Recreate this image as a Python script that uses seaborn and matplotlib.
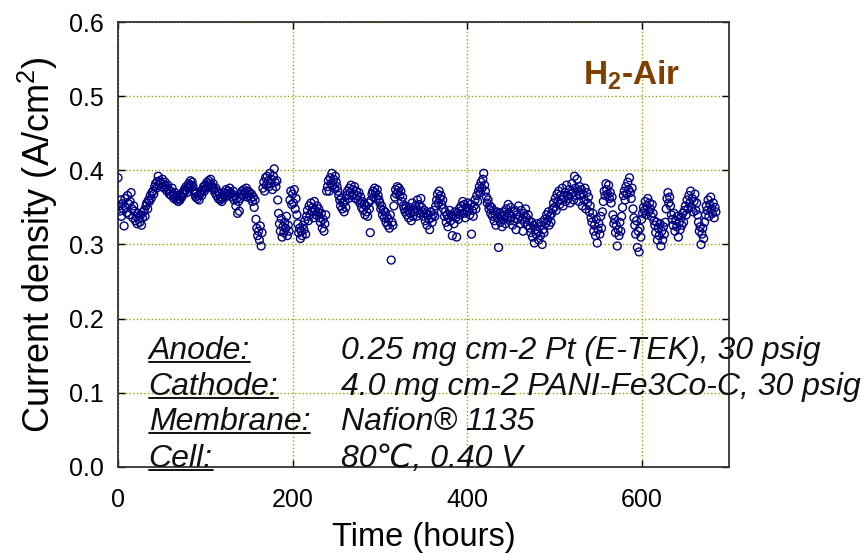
import numpy as np
import matplotlib
matplotlib.use("Agg")
import matplotlib.pyplot as plt
from matplotlib.lines import Line2D
import seaborn as sns

# current density readings, mA/cm^2, one per hour from t = 0 h
current_ma = [
    390, 352, 345, 360, 338, 355, 348, 325, 362, 350,
    343, 366, 355, 340, 358, 370, 348, 336, 352, 345,
    332, 338, 328, 342, 335, 330, 340, 326, 336, 344,
    346, 338, 352, 356, 348, 360, 358, 366, 362, 370,
    372, 368, 378, 382, 376, 385, 392, 380, 386, 383,
    378, 388, 381, 376, 384, 378, 372, 380, 374, 368,
    372, 366, 376, 368, 362, 370, 364, 360, 366, 358,
    362, 360, 366, 364, 370, 368, 374, 372, 378, 370,
    376, 382, 378, 386, 380, 384, 378, 372, 368, 364,
    370, 362, 366, 360, 368, 372, 366, 374, 378, 372,
    380, 376, 384, 378, 386, 382, 388, 380, 376, 382,
    374, 370, 376, 366, 372, 362, 368, 360, 364, 358,
    362, 366, 370, 364, 374, 368, 372, 366, 376, 370,
    368, 364, 372, 360, 366, 352, 362, 342, 358, 345,
    362, 368, 372, 366, 374, 370, 368, 376, 364, 372,
    366, 370, 362, 368, 358, 364, 350, 360, 334, 322,
    312, 318, 306, 325, 298, 316, 376, 384, 372, 390,
    380, 392, 386, 378, 396, 382, 388, 374, 392, 402,
    384, 378, 386, 360, 342, 328, 318, 335, 310, 324,
    316, 330, 322, 338, 312, 326, 318, 360, 372, 354,
    368, 356, 374, 348, 362, 340, 328, 316, 322, 308,
    318, 312, 326, 320, 332, 314, 338, 346, 332, 352,
    340, 356, 344, 350, 336, 358, 346, 340, 352, 344,
    348, 336, 330, 342, 322, 334, 318, 328, 340, 372,
    378, 386, 372, 390, 382, 396, 380, 388, 376, 392,
    384, 378, 372, 366, 360, 352, 362, 348, 356, 344,
    358, 350, 366, 372, 362, 376, 370, 380, 366, 374,
    368, 378, 362, 372, 366, 360, 370, 356, 364, 350,
    358, 346, 354, 340, 352, 344, 338, 356, 348, 316,
    360, 368, 372, 364, 376, 370, 362, 374, 366, 360,
    356, 348, 352, 340, 346, 336, 344, 330, 338, 326,
    334, 322, 340, 279, 330, 326, 352, 364, 374, 368,
    378, 370, 376, 366, 372, 358, 364, 352, 348, 344,
    352, 340, 346, 336, 350, 342, 332, 356, 338, 348,
    344, 352, 338, 360, 346, 354, 342, 362, 350, 344,
    338, 346, 332, 342, 326, 340, 334, 320, 344, 336,
    330, 340, 346, 338, 352, 360, 368, 356, 372, 362,
    366, 354, 360, 348, 338, 344, 330, 340, 324, 336,
    346, 332, 340, 312, 338, 328, 344, 336, 310, 342,
    334, 348, 340, 352, 346, 358, 342, 354, 336, 350,
    344, 356, 348, 340, 354, 314, 346, 338, 352, 360,
    348, 366, 358, 372, 378, 370, 384, 376, 388, 396,
    380, 372, 364, 356, 360, 348, 352, 342, 350, 338,
    346, 332, 340, 326, 344, 336, 296, 342, 330, 338,
    324, 344, 334, 340, 328, 348, 336, 354, 342, 332,
    350, 338, 326, 344, 332, 346, 320, 340, 334, 352,
    338, 328, 346, 334, 318, 342, 330, 348, 336, 326,
    340, 332, 322, 316, 330, 310, 326, 302, 320, 314,
    328, 318, 306, 324, 312, 330, 300, 320, 316, 334,
    328, 340, 332, 344, 326, 338, 330, 342, 348, 356,
    350, 362, 346, 368, 358, 372, 354, 366, 360, 376,
    352, 364, 370, 358, 380, 366, 362, 374, 356, 368,
    382, 370, 360, 392, 376, 366, 388, 372, 358, 378,
    366, 374, 352, 368, 360, 376, 348, 370, 356, 364,
    344, 352, 336, 330, 342, 318, 326, 312, 334, 302,
    320, 328, 314, 338, 322, 344, 358, 372, 366, 382,
    374, 368, 380, 362, 370, 356, 364, 340, 328, 334,
    316, 326, 298, 320, 312, 330, 318, 338, 350, 366,
    372, 360, 378, 368, 384, 374, 390, 370, 362, 376,
    348, 336, 326, 314, 332, 296, 318, 290, 322, 310,
    334, 342, 350, 346, 358, 340, 352, 362, 344, 356,
    348, 338, 354, 342, 332, 326, 316, 330, 306, 322,
    312, 328, 298, 318, 306, 324, 314, 330, 348, 362,
    370, 356, 364, 352, 340, 334, 326, 342, 318, 332,
    324, 338, 310, 330, 320, 336, 326, 342, 330, 346,
    352, 340, 360, 348, 366, 356, 372, 350, 362, 344,
    358, 368, 346, 356, 340, 330, 318, 324, 300, 314,
    322, 308, 330, 340, 352, 346, 360, 338, 354, 364,
    348, 342, 356, 336, 350, 344,
]
hours = list(range(len(current_ma)))

x_ticks = [0, 200, 400, 600]
y_ticks = [0.0, 0.1, 0.2, 0.3, 0.4, 0.5, 0.6]
y_tick_labels = ["0.0", "0.1", "0.2", "0.3", "0.4", "0.5", "0.6"]

info_labels = ["Anode:", "Cathode:", "Membrane:", "Cell:"]
info_values = ["0.25 mg cm-2 Pt (E-TEK), 30 psig",
               "4.0 mg cm-2 PANI-Fe3Co-C, 30 psig",
               "Nafion\u00ae 1135",
               "80\u2103, 0.40 V"]

sns.set_theme(style="white")
plt.rcParams["font.family"] = ["Liberation Sans", "DejaVu Sans"]
plt.rcParams["mathtext.default"] = "regular"

density = np.array(current_ma) / 1000.0

fig = plt.figure(figsize=(8.63, 5.54), dpi=100)
ax = fig.add_axes([118 / 863, 87 / 554, 611 / 863, 445 / 554])

sns.scatterplot(x=hours, y=density, ax=ax, marker="o", s=32,
                facecolors="none", edgecolor="#000080", linewidth=1.0,
                legend=False, zorder=3)

ax.set_xlim(0, 700)
ax.set_ylim(0, 0.6)
ax.set_xticks(x_ticks)
ax.set_yticks(y_ticks)
ax.set_yticklabels(y_tick_labels)
ax.grid(True, linestyle=":", color="#a0a000", linewidth=1.0, zorder=0)
ax.set_axisbelow(True)
ax.tick_params(direction="in", length=5, width=1, color="black",
               top=True, right=True, bottom=True, left=True,
               labelsize=18, labelcolor="black")
ax.tick_params(axis="y", pad=10.5)
ax.tick_params(axis="x", pad=15)
for sp in ax.spines.values():
    sp.set_color("#333333")
    sp.set_linewidth(1.3)
    sp.set_visible(True)

ax.set_xlabel("Time (hours)", fontsize=23.5, color="black", labelpad=7)
ax.set_ylabel("Current density (A/cm$^{2}$)", fontsize=26, color="black",
              labelpad=6)

ax.text(589, 0.528, "H$_{2}$-Air", fontsize=24, fontweight="bold",
        color="#7f3f00", ha="center", va="center")

row_y = [0.1456, 0.097, 0.050, 0.0]
label_objs = []
for lab, val, yy in zip(info_labels, info_values, row_y):
    t1 = ax.text(35, yy, lab, fontsize=23, style="italic", color="#111111",
                 ha="left", va="baseline", clip_on=False)
    ax.text(255, yy, val, fontsize=23, style="italic", color="#111111",
            ha="left", va="baseline", clip_on=False)
    label_objs.append(t1)

fig.canvas.draw()
renderer = fig.canvas.get_renderer()
inv = fig.transFigure.inverted()
for t1 in label_objs:
    bb = t1.get_window_extent(renderer)
    x0, x1 = bb.x0, bb.x1
    base = ax.transData.transform((0, t1.get_position()[1]))[1]
    yl = base - 3
    (fx0, fy), (fx1, _) = inv.transform([(x0, yl), (x1, yl)])
    fig.add_artist(Line2D([fx0, fx1], [fy, fy], color="#111111", lw=1.4))

fig.savefig("out.png", dpi=100)
